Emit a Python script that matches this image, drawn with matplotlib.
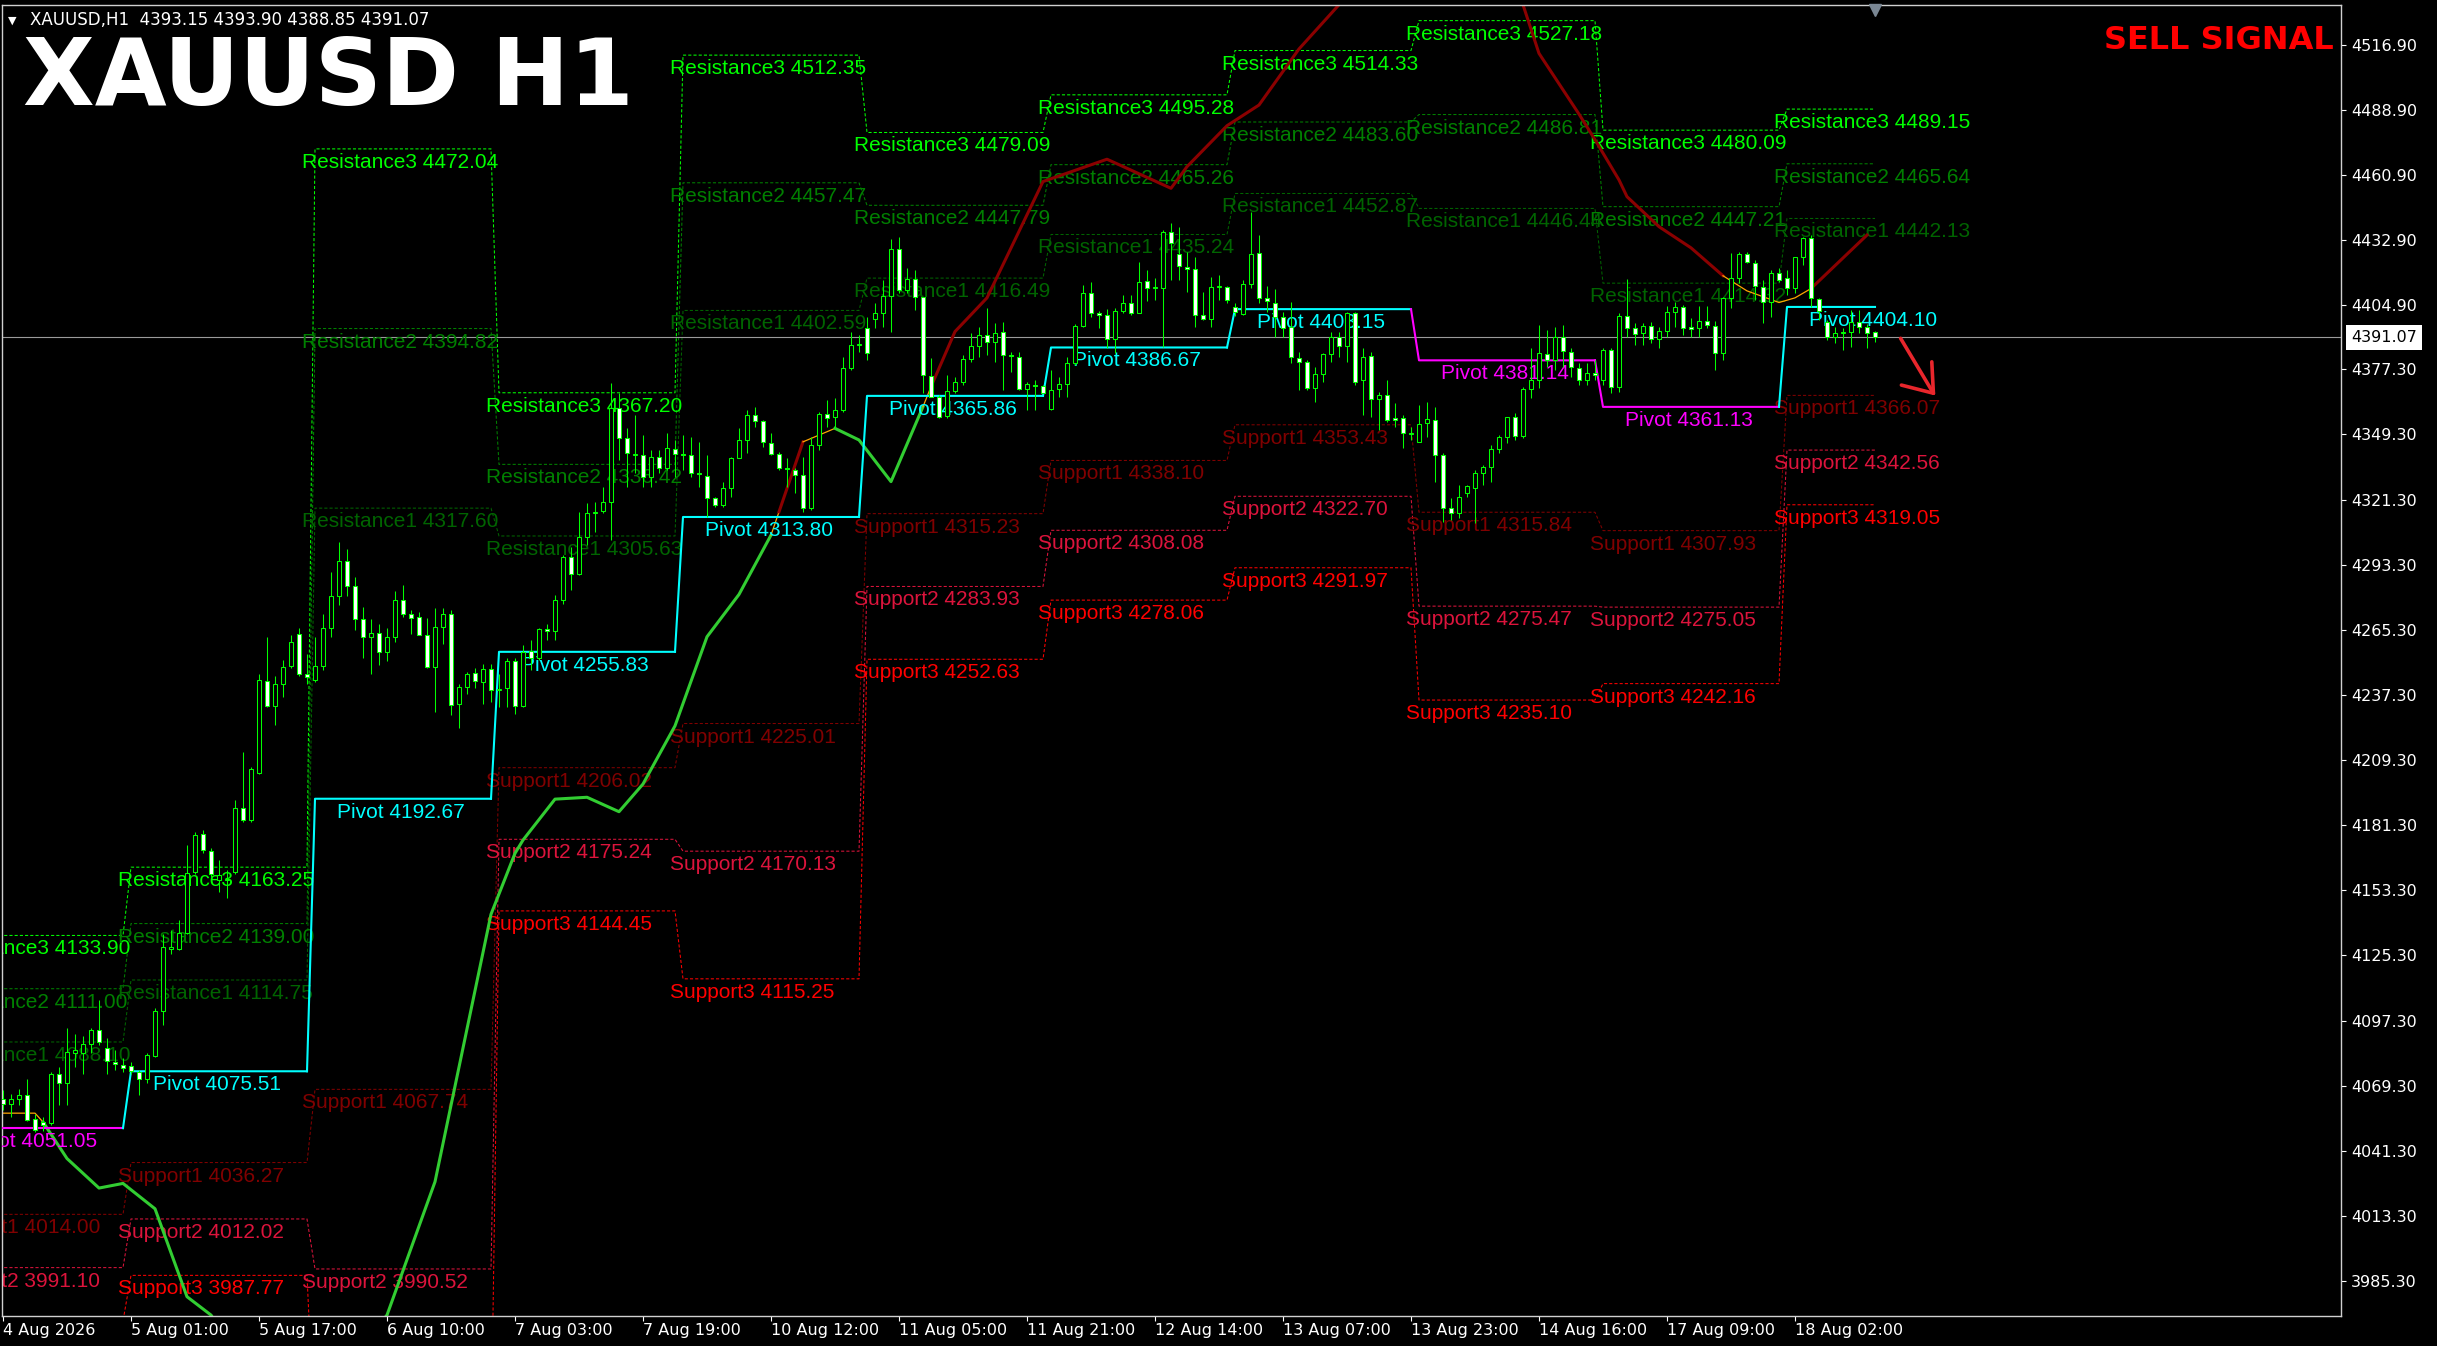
import matplotlib
matplotlib.use("Agg")
import matplotlib.pyplot as plt
from matplotlib.transforms import offset_copy, blended_transform_factory
import numpy as np

plt.rcParams["font.family"] = ["DejaVu Sans"]

symbol = "XAUUSD"
timeframe = "H1"
signal_text = "SELL SIGNAL"

# hourly candles, bar 0 = left edge of the chart
opens = [
    4063.8, 4061.6, 4063.4, 4065.2, 4054.8, 4053.5, 4053.3, 4074.5, 4070.5, 4083.5,
    4083.2, 4087.2, 4093.2, 4085.7, 4079.6, 4078.4, 4077.7, 4075.0, 4072.4, 4082.0,
    4101.3, 4128.0, 4127.9, 4135.0, 4161.2, 4177.4, 4170.3, 4157.7, 4157.7, 4161.2,
    4188.5, 4183.5, 4203.8, 4243.4, 4232.5, 4242.0, 4249.7, 4263.5, 4246.5, 4243.7,
    4249.7, 4266.0, 4280.0, 4295.0, 4284.0, 4270.0, 4262.0, 4264.0, 4255.9, 4262.0,
    4278.1, 4272.3, 4270.6, 4263.0, 4249.1, 4266.3, 4272.3, 4233.6, 4240.8, 4246.8,
    4243.0, 4248.3, 4239.4, 4240.1, 4252.0, 4232.5, 4256.3, 4253.0, 4265.5, 4264.9,
    4278.1, 4296.4, 4289.5, 4305.3, 4315.3, 4316.5, 4320.4, 4360.5, 4347.6, 4340.3,
    4340.4, 4331.1, 4339.4, 4334.7, 4342.9, 4341.0, 4340.4, 4332.6, 4331.4, 4321.8,
    4318.9, 4326.1, 4339.0, 4346.9, 4357.6, 4355.0, 4345.7, 4340.7, 4334.9, 4334.0,
    4331.8, 4317.5, 4344.7, 4357.9, 4356.6, 4359.8, 4377.7, 4387.7, 4394.9, 4398.8,
    4401.7, 4408.8, 4428.9, 4411.4, 4416.2, 4408.2, 4374.4, 4365.2, 4357.0, 4368.1,
    4371.7, 4381.6, 4387.3, 4392.0, 4389.2, 4393.5, 4383.4, 4382.7, 4368.7, 4370.5,
    4370.0, 4360.1, 4368.7, 4371.0, 4379.8, 4395.9, 4410.2, 4401.6, 4400.6, 4390.1,
    4402.5, 4405.6, 4401.3, 4415.4, 4412.1, 4412.1, 4436.5, 4426.8, 4421.4, 4420.3,
    4400.6, 4398.8, 4412.5, 4412.8, 4404.0, 4400.9, 4413.8, 4427.1, 4407.8, 4405.9,
    4399.9, 4395.6, 4382.3, 4380.3, 4369.1, 4375.1, 4383.9, 4391.3, 4387.3, 4401.3,
    4372.7, 4383.0, 4364.4, 4366.2, 4356.2, 4356.5, 4349.3, 4346.2, 4354.0, 4355.7,
    4340.3, 4317.5, 4315.6, 4324.1, 4326.1, 4332.8, 4335.1, 4342.9, 4348.1, 4356.6,
    4348.6, 4368.7, 4372.9, 4383.9, 4381.3, 4391.0, 4384.9, 4377.7, 4372.9, 4375.6,
    4372.9, 4385.6, 4369.8, 4400.2, 4394.9, 4392.7, 4396.0, 4390.2, 4393.9, 4402.0,
    4404.2, 4395.3, 4394.9, 4398.2, 4396.0, 4384.4, 4407.8, 4416.4, 4426.8, 4423.1,
    4412.8, 4406.4, 4418.5, 4416.4, 4412.1, 4425.4, 4433.6, 4407.4, 4397.7, 4391.3,
    4393.0, 4393.4, 4397.7, 4395.3, 4393.15,
]
highs = [
    4067.4, 4065.9, 4068.1, 4072.4, 4057.3, 4056.0, 4075.0, 4077.4, 4093.9, 4091.7,
    4090.6, 4093.9, 4106.1, 4089.6, 4084.6, 4081.0, 4079.6, 4076.0, 4083.2, 4102.5,
    4134.7, 4136.2, 4140.5, 4172.7, 4178.5, 4179.2, 4171.3, 4166.3, 4162.0, 4192.1,
    4212.9, 4206.4, 4246.5, 4262.0, 4245.4, 4252.3, 4263.0, 4266.0, 4255.0, 4262.0,
    4272.0, 4290.0, 4303.0, 4300.0, 4288.0, 4275.0, 4270.0, 4268.0, 4266.0, 4282.0,
    4284.5, 4273.8, 4273.1, 4270.2, 4274.5, 4274.5, 4273.8, 4242.2, 4247.3, 4248.7,
    4250.8, 4250.8, 4246.5, 4253.0, 4253.0, 4258.7, 4260.9, 4265.9, 4268.0, 4280.2,
    4297.4, 4301.0, 4316.1, 4319.6, 4320.4, 4326.8, 4371.2, 4366.9, 4351.9, 4357.6,
    4349.0, 4342.6, 4342.6, 4349.7, 4346.9, 4349.0, 4348.3, 4346.2, 4340.4, 4322.5,
    4329.0, 4339.7, 4351.9, 4359.8, 4361.2, 4355.5, 4349.7, 4341.9, 4339.0, 4334.7,
    4339.7, 4348.3, 4359.1, 4364.1, 4364.8, 4382.7, 4393.5, 4392.0, 4399.9, 4405.6,
    4415.7, 4433.2, 4434.3, 4420.7, 4420.0, 4408.5, 4382.0, 4366.2, 4374.8, 4374.1,
    4383.4, 4392.7, 4395.6, 4403.5, 4397.0, 4397.7, 4384.9, 4384.9, 4371.9, 4372.7,
    4370.5, 4377.0, 4374.1, 4382.7, 4396.7, 4413.5, 4414.9, 4402.5, 4403.1, 4403.5,
    4409.2, 4409.2, 4423.6, 4420.0, 4416.4, 4437.2, 4440.3, 4438.6, 4427.8, 4425.7,
    4410.7, 4417.1, 4417.8, 4413.1, 4406.0, 4415.7, 4445.1, 4435.0, 4413.1, 4411.7,
    4402.0, 4406.4, 4384.9, 4381.3, 4378.4, 4384.2, 4393.5, 4393.5, 4402.0, 4402.0,
    4386.3, 4384.9, 4367.7, 4372.7, 4362.6, 4357.6, 4352.6, 4361.9, 4363.4, 4361.2,
    4341.1, 4321.8, 4327.5, 4327.5, 4334.0, 4336.1, 4344.7, 4349.0, 4356.9, 4358.3,
    4369.8, 4386.3, 4396.3, 4394.2, 4395.6, 4396.3, 4386.3, 4379.8, 4379.8, 4381.3,
    4386.3, 4386.3, 4401.3, 4415.9, 4397.0, 4397.3, 4397.7, 4395.6, 4404.5, 4406.4,
    4404.9, 4399.2, 4404.5, 4404.5, 4398.0, 4408.5, 4427.1, 4427.8, 4427.8, 4424.3,
    4415.7, 4420.0, 4420.7, 4420.0, 4425.7, 4434.3, 4435.0, 4407.8, 4398.5, 4395.6,
    4394.9, 4402.8, 4402.8, 4396.7, 4393.90,
]
lows = [
    4058.8, 4055.9, 4060.9, 4054.0, 4049.5, 4050.0, 4052.3, 4060.9, 4060.9, 4077.4,
    4074.5, 4083.2, 4086.7, 4074.5, 4075.9, 4075.0, 4074.5, 4065.2, 4070.3, 4081.7,
    4095.3, 4126.1, 4127.6, 4134.7, 4160.5, 4169.2, 4159.1, 4152.7, 4149.8, 4160.5,
    4182.8, 4182.8, 4203.5, 4232.2, 4224.3, 4236.5, 4248.7, 4245.5, 4242.2, 4243.0,
    4248.0, 4262.0, 4276.0, 4280.0, 4265.0, 4253.0, 4246.5, 4250.0, 4252.0, 4260.0,
    4270.9, 4263.7, 4263.0, 4248.7, 4230.0, 4259.4, 4228.6, 4222.9, 4237.9, 4240.1,
    4233.6, 4234.3, 4232.2, 4232.2, 4229.3, 4232.2, 4248.0, 4252.3, 4260.9, 4260.9,
    4276.6, 4282.4, 4288.8, 4301.7, 4307.5, 4315.3, 4303.9, 4338.3, 4326.8, 4332.5,
    4326.8, 4326.8, 4332.5, 4334.0, 4331.1, 4334.0, 4331.1, 4326.8, 4313.9, 4318.2,
    4318.2, 4322.5, 4339.0, 4341.1, 4352.6, 4344.0, 4340.4, 4334.0, 4326.8, 4324.0,
    4316.1, 4316.8, 4342.6, 4352.6, 4351.9, 4359.1, 4377.0, 4384.9, 4381.3, 4394.9,
    4395.6, 4393.5, 4409.9, 4409.9, 4402.8, 4366.9, 4365.5, 4356.2, 4356.2, 4366.9,
    4370.5, 4380.6, 4382.7, 4383.4, 4380.6, 4368.4, 4376.3, 4368.4, 4359.8, 4359.8,
    4366.9, 4359.8, 4365.5, 4365.5, 4379.1, 4395.6, 4399.9, 4394.9, 4386.3, 4384.2,
    4401.3, 4400.6, 4401.3, 4406.8, 4407.1, 4387.0, 4415.7, 4415.7, 4410.7, 4395.6,
    4398.5, 4395.6, 4407.1, 4405.6, 4400.0, 4400.6, 4412.1, 4405.6, 4402.0, 4391.3,
    4391.3, 4379.8, 4368.4, 4368.4, 4363.4, 4371.9, 4380.6, 4382.7, 4380.6, 4370.5,
    4357.6, 4356.9, 4351.2, 4354.8, 4352.6, 4343.3, 4346.9, 4346.2, 4348.3, 4328.9,
    4311.8, 4312.5, 4313.2, 4322.5, 4311.0, 4327.5, 4328.9, 4341.1, 4345.4, 4346.9,
    4347.6, 4364.8, 4369.1, 4378.4, 4377.0, 4378.4, 4374.1, 4370.5, 4370.5, 4372.7,
    4370.5, 4366.9, 4367.7, 4391.3, 4387.7, 4387.7, 4388.4, 4386.3, 4391.3, 4395.6,
    4392.0, 4391.3, 4391.3, 4394.9, 4377.0, 4381.3, 4403.5, 4414.2, 4422.8, 4407.1,
    4397.3, 4399.9, 4414.9, 4409.2, 4409.9, 4422.1, 4404.2, 4398.5, 4389.9, 4388.4,
    4385.6, 4387.0, 4392.7, 4386.3, 4388.85,
]
closes = [
    4061.6, 4063.4, 4065.2, 4054.5, 4050.2, 4052.5, 4074.5, 4070.5, 4083.9, 4084.5,
    4087.2, 4093.2, 4088.2, 4080.0, 4078.6, 4077.1, 4075.7, 4072.0, 4082.4, 4101.3,
    4129.0, 4128.8, 4135.0, 4160.9, 4177.0, 4170.6, 4160.5, 4159.8, 4157.9, 4188.5,
    4183.5, 4205.3, 4243.7, 4232.5, 4242.0, 4249.4, 4260.2, 4246.5, 4244.8, 4249.7,
    4266.0, 4280.0, 4295.0, 4284.0, 4270.0, 4262.0, 4264.0, 4255.9, 4262.0, 4278.0,
    4272.3, 4270.2, 4263.0, 4249.4, 4266.3, 4272.3, 4232.9, 4240.8, 4246.5, 4243.4,
    4248.3, 4239.4, 4240.0, 4252.0, 4232.5, 4255.9, 4253.0, 4265.5, 4264.8, 4278.1,
    4296.7, 4289.5, 4305.3, 4315.3, 4316.1, 4320.4, 4360.5, 4347.6, 4341.1, 4340.8,
    4331.1, 4339.4, 4334.7, 4343.3, 4340.8, 4340.4, 4332.5, 4332.1, 4321.8, 4318.9,
    4326.1, 4339.0, 4346.9, 4357.6, 4355.0, 4346.2, 4340.7, 4335.0, 4334.3, 4331.8,
    4317.5, 4344.7, 4357.9, 4356.5, 4359.8, 4377.7, 4387.7, 4388.3, 4384.1, 4401.7,
    4408.8, 4428.9, 4411.4, 4415.9, 4408.5, 4374.8, 4365.5, 4356.9, 4368.1, 4371.7,
    4381.6, 4387.3, 4392.0, 4389.2, 4393.0, 4383.4, 4383.0, 4368.7, 4371.0, 4370.1,
    4366.9, 4368.4, 4371.0, 4379.8, 4395.9, 4410.2, 4401.6, 4400.6, 4390.1, 4402.5,
    4405.6, 4401.3, 4414.9, 4412.1, 4412.6, 4436.5, 4431.4, 4421.7, 4420.3, 4400.6,
    4398.8, 4412.5, 4413.2, 4407.1, 4402.0, 4413.8, 4426.9, 4407.8, 4406.6, 4399.9,
    4395.0, 4382.7, 4380.3, 4369.1, 4375.1, 4383.9, 4391.3, 4387.3, 4401.3, 4371.9,
    4382.7, 4364.4, 4366.2, 4355.5, 4355.5, 4349.7, 4349.9, 4353.7, 4355.9, 4340.4,
    4317.5, 4315.6, 4322.5, 4327.2, 4332.8, 4335.1, 4342.9, 4348.1, 4356.6, 4348.6,
    4368.7, 4372.9, 4384.2, 4381.3, 4391.3, 4385.3, 4378.4, 4372.9, 4375.5, 4374.8,
    4385.6, 4369.8, 4400.2, 4394.9, 4392.4, 4396.0, 4390.2, 4393.9, 4402.0, 4404.2,
    4394.9, 4394.6, 4398.2, 4396.3, 4384.4, 4407.8, 4416.4, 4426.8, 4423.6, 4413.1,
    4406.4, 4418.8, 4415.7, 4412.1, 4425.4, 4433.6, 4407.8, 4402.5, 4391.3, 4393.0,
    4393.4, 4397.7, 4395.6, 4392.7, 4391.07,
]

time_labels = ["4 Aug 2026", "5 Aug 01:00", "5 Aug 17:00", "6 Aug 10:00", "7 Aug 03:00",
               "7 Aug 19:00", "10 Aug 12:00", "11 Aug 05:00", "11 Aug 21:00", "12 Aug 14:00",
               "13 Aug 07:00", "13 Aug 23:00", "14 Aug 16:00", "17 Aug 09:00", "18 Aug 02:00"]
bars_per_label = 16

price_ticks = [4516.90, 4488.90, 4460.90, 4432.90, 4404.90, 4377.30, 4349.30, 4321.30,
               4293.30, 4265.30, 4237.30, 4209.30, 4181.30, 4153.30, 4125.30, 4097.30,
               4069.30, 4041.30, 4013.30, 3985.30]

# daily pivot levels (first bar of each trading day)
day_start = [-7, 16, 39, 62, 85, 108, 131, 154, 177, 200, 223]
pivot = [4051.05, 4075.51, 4192.67, 4255.83, 4313.80, 4365.86, 4386.67, 4403.15, 4381.14, 4361.13, 4404.10]
res1 = [4088.10, 4114.75, 4317.60, 4305.63, 4402.59, 4416.49, 4435.24, 4452.87, 4446.44, 4414.32, 4442.13]
res2 = [4111.00, 4139.00, 4394.82, 4336.42, 4457.47, 4447.79, 4465.26, 4483.60, 4486.81, 4447.21, 4465.64]
res3 = [4133.90, 4163.25, 4472.04, 4367.20, 4512.35, 4479.09, 4495.28, 4514.33, 4527.18, 4480.09, 4489.15]
sup1 = [4014.00, 4036.27, 4067.74, 4206.02, 4225.01, 4315.23, 4338.10, 4353.43, 4315.84, 4307.93, 4366.07]
sup2 = [3991.10, 4012.02, 3990.52, 4175.24, 4170.13, 4283.93, 4308.08, 4322.70, 4275.47, 4275.05, 4342.56]
sup3 = [3968.20, 3987.77, 3913.30, 4144.45, 4115.25, 4252.63, 4278.06, 4291.97, 4235.10, 4242.16, 4319.05]

# trend line indicator (u = up / green, d = down / dark red, f = flat / orange)
trend_bars = [0, 4, 5, 8, 12, 15, 19, 23, 26, 30, 36, 42, 48, 54, 61, 64, 65, 69, 73, 77,
              80, 84, 88, 92, 96, 97, 100, 102, 104, 107, 111, 115, 116, 119, 123, 130, 138, 146, 148, 153,
              157, 162, 167, 172, 178, 184, 190, 192, 197, 199, 202, 203, 207, 211, 215, 218, 220, 222, 224, 226,
              233]
trend_values = [4057.5, 4057.5, 4053.7, 4038.0, 4025.3, 4027.3, 4016.4, 3978.6, 3970.7, 3950.0,
                3938.0, 3945.0, 3970.7, 4028.0, 4143.0, 4169.2, 4174.9, 4192.5, 4193.3, 4187.1,
                4199.0, 4224.0, 4262.3, 4280.5, 4306.0, 4316.0, 4346.1, 4349.0, 4351.9, 4346.9,
                4329.0, 4361.2, 4369.8, 4393.5, 4408.0, 4458.0, 4467.6, 4455.1, 4464.4, 4482.0,
                4490.9, 4515.0, 4534.0, 4552.0, 4560.0, 4552.0, 4534.0, 4513.1, 4487.0, 4476.0,
                4458.7, 4451.5, 4438.6, 4429.5, 4417.5, 4411.0, 4408.5, 4406.0, 4408.0, 4412.0,
                4435.0]
trend_state = ("ff" "uuuuuuuuuuuuuuuuuuuuuu" "f" "d" "ff" "uuu" "f"
               "dddddddddddddddddddddd" "fffff" "d")

# hand drawn arrow next to the last bar
arrow_tail = (237.2, 4390.6)
arrow_tip = (241.3, 4367.0)
arrow_wings = [(237.3, 4370.5), (241.1, 4380.5)]

n = len(closes)
if not (len(opens) == len(highs) == len(lows) == n):
    raise ValueError("candle arrays differ in length")

W, H = 2437, 1346
fig = plt.figure(figsize=(W / 100, H / 100), dpi=100, facecolor="black")
ax = fig.add_axes([2 / W, 30 / H, 2339 / W, 1311 / H])
ax.set_facecolor("black")
ax.set_xlim(-0.125, 292.25)
ax.set_ylim(3970.3, 4533.9)

level_font = "Liberation Sans"
label_size = 15
day_end = [s - 1 for s in day_start[1:]] + [n - 1]


def steps(values):
    xs, ys = [], []
    for s, e, v in zip(day_start, day_end, values):
        xs += [s, e]
        ys += [v, v]
    return xs, ys


levels = [
    ("Resistance3", res3, "#00FF00"),
    ("Resistance2", res2, "#008000"),
    ("Resistance1", res1, "#006400"),
    ("Support1", sup1, "#800000"),
    ("Support2", sup2, "#DC143C"),
    ("Support3", sup3, "#FF0000"),
]
label_trans = offset_copy(ax.transData, fig=fig, x=-12.5, y=-4, units="dots")
for name, vals, col in levels:
    xs, ys = steps(vals)
    ax.plot(xs, ys, color=col, lw=0.75, linestyle=(0, (3, 2)), zorder=1)
    for s, v in zip(day_start, vals):
        ax.text(s, v, f"{name} {v:.2f}", transform=label_trans, color=col,
                fontsize=label_size, family=level_font, ha="left", va="top",
                clip_on=True, zorder=2)

# current price line
ax.axhline(closes[-1], color="#9a9a9a", lw=0.8, zorder=1.5)

# trend indicator
state_color = {"u": "#32CD32", "d": "#8B0000", "f": "#FFA500"}
state_width = {"u": 2.2, "d": 2.2, "f": 0.9}
k = 0
while k < len(trend_state):
    j = k
    while j + 1 < len(trend_state) and trend_state[j + 1] == trend_state[k]:
        j += 1
    st = trend_state[k]
    ax.plot(trend_bars[k:j + 2], trend_values[k:j + 2], color=state_color[st],
            lw=state_width[st], solid_joinstyle="round", zorder=2.5)
    k = j + 1

# pivot line, cyan when the pivot rose, magenta when it fell
pivot_trans = offset_copy(ax.transData, fig=fig, x=22, y=-4, units="dots")
for d in range(len(day_start)):
    col = "#00FFFF" if d > 0 and pivot[d] >= pivot[d - 1] else "#FF00FF"
    xs = [day_start[d], day_end[d]]
    ys = [pivot[d], pivot[d]]
    if d > 0:
        xs = [day_end[d - 1]] + xs
        ys = [pivot[d - 1]] + ys
    ax.plot(xs, ys, color=col, lw=1.5, zorder=2.6)
    ax.text(day_start[d], pivot[d], f"Pivot {pivot[d]:.2f}", transform=pivot_trans,
            color=col, fontsize=label_size, family=level_font, ha="left", va="top",
            clip_on=True, zorder=2.7)

# candles
o = np.array(opens)
h = np.array(highs)
l = np.array(lows)
c = np.array(closes)
idx = np.arange(n)
bull = c >= o
ax.vlines(idx, l, h, color="#00FF00", lw=0.75, zorder=4)
body_lo = np.minimum(o, c)
body_h = np.maximum(np.abs(c - o), 0.45)
ax.bar(idx, body_h, bottom=body_lo, width=0.55,
       color=np.where(bull, "black", "white"), edgecolor="#00FF00", linewidth=0.75, zorder=5)

# arrow
ax.plot([arrow_tail[0], arrow_tip[0]], [arrow_tail[1], arrow_tip[1]], color="#E8262C",
        lw=2.6, solid_capstyle="round", zorder=6)
for wx, wy in arrow_wings:
    ax.plot([wx, arrow_tip[0]], [wy, arrow_tip[1]], color="#E8262C", lw=2.6,
            solid_capstyle="round", zorder=6)

# axes styling
for sp in ax.spines.values():
    sp.set_color("#d0d0d0")
    sp.set_linewidth(1.0)
tick_pos = [k * bars_per_label for k in range(len(time_labels))]
ax.set_xticks(tick_pos)
ax.set_xticklabels(time_labels)
for lbl in ax.get_xticklabels():
    lbl.set_ha("left")
ax.yaxis.tick_right()
ax.set_yticks(price_ticks)
ax.set_yticklabels([f"{v:.2f}" for v in price_ticks])
ax.tick_params(axis="x", colors="white", direction="out", length=3.6, width=0.8, pad=1.5, labelsize=11.5)
ax.tick_params(axis="y", colors="white", direction="out", length=3.6, width=0.8, pad=3.6, labelsize=11.5)

# current price box on the price scale
box_trans = offset_copy(blended_transform_factory(ax.transAxes, ax.transData),
                        fig=fig, x=10, y=0, units="dots")
ax.text(1.0, closes[-1], f"{closes[-1]:.2f}", transform=box_trans, ha="left", va="center",
        color="black", fontsize=11.5,
        bbox=dict(boxstyle="square,pad=0.3", fc="white", ec="none"), clip_on=False, zorder=10)

# chart shift marker at the last bar
ax.plot([n - 1], [0.996], marker="v", ms=9, color="#7a8794", linestyle="none",
        transform=blended_transform_factory(ax.transData, ax.transAxes), clip_on=False, zorder=10)

# texts on top
fig.text(8 / W, 1 - 24 / H, "\u25BC", color="white", fontsize=8, va="baseline")
fig.text(30 / W, 1 - 25 / H,
         f"{symbol},{timeframe}  {opens[-1]:.2f} {highs[-1]:.2f} {lows[-1]:.2f} {closes[-1]:.2f}",
         color="white", fontsize=12, va="baseline")
fig.text(23 / W, 1 - 105 / H, f"{symbol} {timeframe}", color="white", fontsize=67,
         fontweight="bold", va="baseline")
fig.text(2334 / W, 1 - 49 / H, signal_text, color="#FF0000", fontsize=23,
         fontweight="bold", ha="right", va="baseline")

fig.savefig("out.png", dpi=100, facecolor="black")
